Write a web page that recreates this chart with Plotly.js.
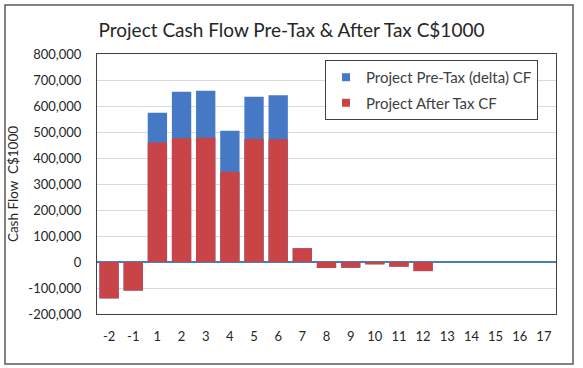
<!DOCTYPE html>
<html>
<head>
<meta charset="utf-8">
<script src="https://cdn.plot.ly/plotly-3.0.1.min.js"></script>
<style>html,body{margin:0;padding:0;background:#fff;}#chart{width:583px;height:368px;}</style>
</head>
<body>
<div id="chart"></div>
<script>
const years = ["-2","-1","1","2","3","4","5","6","7","8","9","10","11","12","13","14","15","16","17"];
const preTax = [-140000,-110000,574000,655000,659000,505000,636000,641000,53000,-23000,-22000,-9000,-18000,-35000,0,0,0,0,0];
const afterTax = [-140000,-110000,460000,476000,478000,347000,473000,472000,53000,-23000,-22000,-9000,-18000,-35000,0,0,0,0,0];
const yTickVals = [-200000,-100000,0,100000,200000,300000,400000,500000,600000,700000,800000];
const yTickText = ["-200,000","-100,000","0","100,000","200,000","300,000","400,000","500,000","600,000","700,000","800,000"];
const seriesNames = ["Project Pre-Tax (delta) CF","Project After Tax CF"];
const seriesColors = ["#4679C5","#C84446"];

const font = "Lato, 'Open Sans', sans-serif";
const data = [
  {type:"bar", name:seriesNames[0], x:years, y:preTax, marker:{color:seriesColors[0]}, showlegend:false},
  {type:"bar", name:seriesNames[1], x:years, y:afterTax, marker:{color:seriesColors[1]}, showlegend:false},
  {type:"scatter", mode:"markers", name:seriesNames[0], x:[null], y:[null], marker:{symbol:"square", size:8, color:seriesColors[0]}, legendgroup:"a"},
  {type:"scatter", mode:"markers", name:seriesNames[1], x:[null], y:[null], marker:{symbol:"square", size:8, color:seriesColors[1]}, legendgroup:"b"}
];
const L=97,R=556,T=54,B=314;
const px = v => (v-L)/(R-L), py = v => (B-v)/(B-T);
const layout = {
  width:583, height:368,
  margin:{l:L, r:583-R, t:T, b:368-B, pad:0},
  paper_bgcolor:"#fff", plot_bgcolor:"#fff",
  barmode:"overlay", bargap:0.2,
  font:{family:font, color:"#404040", size:13},
  title:{text:"Project Cash Flow Pre-Tax & After Tax C$1000", font:{size:19, color:"#262626", family:font}, x:0.5, xanchor:"center", y:1-30/368, yanchor:"middle"},
  xaxis:{type:"category", showline:true, mirror:true, linecolor:"#404040", linewidth:1, showgrid:false, zeroline:false,
         tickfont:{size:13, color:"#262626"}, ticks:"", ticklabelstandoff:10, fixedrange:true},
  yaxis:{range:[-200000,800000], tickvals:yTickVals, ticktext:yTickText, showline:true, mirror:true, linecolor:"#404040", linewidth:1,
         showgrid:true, gridcolor:"#D9D9D9", zeroline:true, zerolinecolor:"#4A7EBB", zerolinewidth:1.5,
         tickfont:{size:13, color:"#262626"}, ticks:"", ticklabelstandoff:12,
         title:{text:"Cash Flow  C$1000", font:{size:13.5, color:"#262626"}, standoff:6}},
  legend:{x:px(325), y:py(60), xanchor:"left", yanchor:"top", bgcolor:"#fff", bordercolor:"#404040", borderwidth:1,
          font:{size:15, color:"#404040"}, traceorder:"grouped", tracegroupgap:3, itemwidth:30},
  showlegend:true,
  shapes:[
    {type:"rect", xref:"paper", yref:"paper", x0:px(5), x1:px(573), y0:py(364), y1:py(5), line:{color:"#595959", width:1.5}, layer:"below"}
  ]
};
Plotly.newPlot("chart", data, layout, {displayModeBar:false, staticPlot:true});
</script>
</body>
</html>
